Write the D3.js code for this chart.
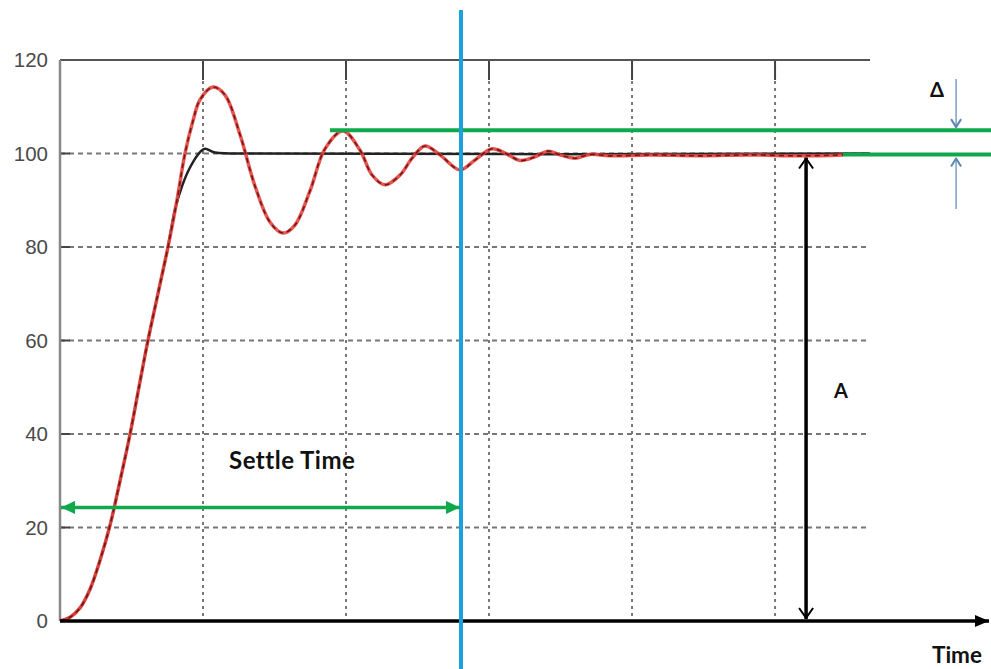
<!DOCTYPE html>
<html>
  <head>
    <script src="https://d3js.org/d3.v7.min.js" charset="utf-8"></script>
    <style>
      body { margin: 0; background: #fff; }
      text { font-family: "Liberation Sans", Arial, sans-serif; }
      .lbl { font-family: Lato, "Open Sans", sans-serif; font-weight: 700; fill: #111; }
    </style>
  </head>
  <body>
    <svg id="chart" width="991" height="669"></svg>
    <script>
      // y ticks and x grid positions (time units = one grid cell)
      var yTicks = [0, 20, 40, 60, 80, 100, 120];
      var xGrid = [1, 2, 3, 4, 5];

      // damped response (red dashed)
      var respT = [0, 0.07, 0.14, 0.21, 0.28, 0.35, 0.42, 0.49, 0.552, 0.615, 0.685, 0.755, 0.818, 0.874, 0.93,
        0.979, 1.07, 1.154, 1.259, 1.364, 1.469, 1.559, 1.643, 1.748, 1.853, 1.979, 2.098, 2.182, 2.273, 2.378,
        2.462, 2.552, 2.657, 2.797, 2.902, 3.021, 3.112, 3.217, 3.322, 3.413, 3.497, 3.601, 3.706, 3.846,
        4.126, 4.476, 4.825, 5.175, 5.476];
      var respV = [0, 0.8, 2.8, 6.8, 13, 20.5, 30, 40, 50, 60, 70, 80, 90, 100, 107,
        111.5, 114.2, 112.5, 104, 93, 85.3, 83, 84.7, 92, 101, 104.8, 100.7, 95.4, 93.3, 95.4,
        99, 101.6, 99.7, 96.5, 98.6, 101, 100.1, 98.5, 99.3, 100.5, 99.7, 99, 99.8, 99.5,
        99.7, 99.5, 99.7, 99.5, 99.7];

      // well tuned response (black)
      var refT = [0, 0.07, 0.14, 0.21, 0.28, 0.35, 0.42, 0.49, 0.552, 0.615, 0.685, 0.755, 0.804, 0.853, 0.909,
        0.979, 1.014, 1.084, 1.19, 5.664];
      var refV = [0, 0.8, 2.8, 6.8, 13, 20.5, 30, 40, 50, 60, 70, 80, 88, 93, 97,
        100.3, 101, 100.2, 100, 100];

      var bandTop = 105, bandBottom = 100;
      var settleT = 2.804;
      var settleArrowV = 24.3;
      var ampT = 5.217;
      var deltaT = 6.266;

      var svg = d3.select("#chart");
      var x = d3.scaleLinear().domain([0, 5.664]).range([60, 870]);
      var y = d3.scaleLinear().domain([0, 120]).range([621, 60]);

      var defs = svg.append("defs");
      function marker(id, color, w, h, filled) {
        var m = defs.append("marker").attr("id", id).attr("markerUnits", "userSpaceOnUse")
          .attr("viewBox", "0 0 " + w + " " + h).attr("refX", w).attr("refY", h / 2)
          .attr("markerWidth", w).attr("markerHeight", h).attr("orient", "auto-start-reverse");
        if (filled) {
          m.append("path").attr("d", "M0,0L" + w + "," + (h / 2) + "L0," + h + "Z").attr("fill", color);
        } else {
          m.append("path").attr("d", "M1,1L" + (w - 1) + "," + (h / 2) + "L1," + (h - 1))
            .attr("fill", "none").attr("stroke", color).attr("stroke-width", 2);
        }
      }
      marker("triBlack", "#000", 14, 12, true);
      marker("triGreen", "#0fa84b", 14, 13, true);
      marker("vBlack", "#000", 12, 16, false);
      marker("vBlue", "#5b86b0", 10, 12, false);

      // grid
      var g = svg.append("g");
      g.selectAll(".hg").data(yTicks.filter(d => d > 0 && d < 120)).enter().append("line")
        .attr("x1", x(0)).attr("x2", 870).attr("y1", d => y(d)).attr("y2", d => y(d))
        .attr("stroke", "#777").attr("stroke-width", 2).attr("stroke-dasharray", "5,4");
      g.selectAll(".vg").data(xGrid).enter().append("line")
        .attr("x1", d => x(d)).attr("x2", d => x(d)).attr("y1", y(120)).attr("y2", y(0))
        .attr("stroke", "#777").attr("stroke-width", 2).attr("stroke-dasharray", "3,4");
      // tick marks
      g.selectAll(".yt").data(yTicks.filter(d => d > 0 && d < 120)).enter().append("line")
        .attr("x1", x(0)).attr("x2", x(0) + 10).attr("y1", d => y(d)).attr("y2", d => y(d))
        .attr("stroke", "#444").attr("stroke-width", 2);
      g.selectAll(".xt").data(xGrid).enter().append("line")
        .attr("x1", d => x(d)).attr("x2", d => x(d)).attr("y1", y(120)).attr("y2", y(120) + 20)
        .attr("stroke", "#444").attr("stroke-width", 2);
      // frame
      g.append("line").attr("x1", x(0)).attr("x2", 870).attr("y1", y(120)).attr("y2", y(120))
        .attr("stroke", "#555").attr("stroke-width", 2);
      g.append("line").attr("x1", x(0)).attr("x2", x(0)).attr("y1", y(120)).attr("y2", y(0))
        .attr("stroke", "#888").attr("stroke-width", 2.5);

      g.selectAll(".ylab").data(yTicks).enter().append("text")
        .attr("x", 48).attr("y", d => y(d) + 7).attr("text-anchor", "end")
        .attr("font-size", 20.5).attr("fill", "#4a4a4a").text(d => d);

      var line = d3.line().x(d => x(d[0])).y(d => y(d[1])).curve(d3.curveCatmullRom);
      var ref = d3.zip(refT, refV);
      var resp = d3.zip(respT, respV);

      svg.append("path").attr("d", line(ref)).attr("fill", "none")
        .attr("stroke", "#222").attr("stroke-width", 2.5);
      svg.append("path").attr("d", line(resp)).attr("fill", "none")
        .attr("stroke", "#e8413c").attr("stroke-width", 3.5).attr("stroke-opacity", 0.9);
      svg.append("path").attr("d", line(resp)).attr("fill", "none")
        .attr("stroke", "#6a1a1a").attr("stroke-width", 1.6).attr("stroke-dasharray", "5,4");

      // tolerance band lines
      svg.append("line").attr("x1", 330).attr("x2", 991).attr("y1", y(bandTop)).attr("y2", y(bandTop))
        .attr("stroke", "#0fa84b").attr("stroke-width", 4);
      svg.append("line").attr("x1", 843).attr("x2", 991).attr("y1", y(bandBottom) + 1).attr("y2", y(bandBottom) + 1)
        .attr("stroke", "#0fa84b").attr("stroke-width", 4);

      // x axis arrow
      svg.append("line").attr("x1", x(0)).attr("x2", 989).attr("y1", y(0)).attr("y2", y(0))
        .attr("stroke", "#000").attr("stroke-width", 3.5).attr("marker-end", "url(#triBlack)");

      // settle time marker
      svg.append("line").attr("x1", x(settleT)).attr("x2", x(settleT)).attr("y1", 10).attr("y2", 669)
        .attr("stroke", "#1ba1dc").attr("stroke-width", 4);
      svg.append("line").attr("x1", x(0) + 1).attr("x2", x(settleT) - 1)
        .attr("y1", y(settleArrowV)).attr("y2", y(settleArrowV))
        .attr("stroke", "#0fa84b").attr("stroke-width", 3.5)
        .attr("marker-start", "url(#triGreen)").attr("marker-end", "url(#triGreen)");
      svg.append("text").attr("class", "lbl").attr("x", 229).attr("y", 469)
        .attr("font-size", 24).attr("letter-spacing", 0.5).text("Settle Time");

      // amplitude arrow
      svg.append("line").attr("x1", x(ampT)).attr("x2", x(ampT)).attr("y1", y(100) + 4).attr("y2", y(0) - 2)
        .attr("stroke", "#000").attr("stroke-width", 3.5)
        .attr("marker-start", "url(#vBlack)").attr("marker-end", "url(#vBlack)");
      svg.append("text").attr("class", "lbl").attr("x", 834).attr("y", 398)
        .attr("font-size", 20).text("A");

      // delta arrows
      svg.append("line").attr("x1", x(deltaT)).attr("x2", x(deltaT)).attr("y1", 79).attr("y2", y(bandTop) - 2)
        .attr("stroke", "#5b86b0").attr("stroke-width", 1.2).attr("marker-end", "url(#vBlue)");
      svg.append("line").attr("x1", x(deltaT)).attr("x2", x(deltaT)).attr("y1", 209).attr("y2", y(bandBottom) + 4)
        .attr("stroke", "#5b86b0").attr("stroke-width", 1.2).attr("marker-end", "url(#vBlue)");
      svg.append("text").attr("class", "lbl").attr("x", 930).attr("y", 97)
        .attr("font-size", 20).text("Δ");

      svg.append("text").attr("class", "lbl").attr("x", 932).attr("y", 663)
        .attr("font-size", 22.5).text("Time");
    </script>
  </body>
</html>
